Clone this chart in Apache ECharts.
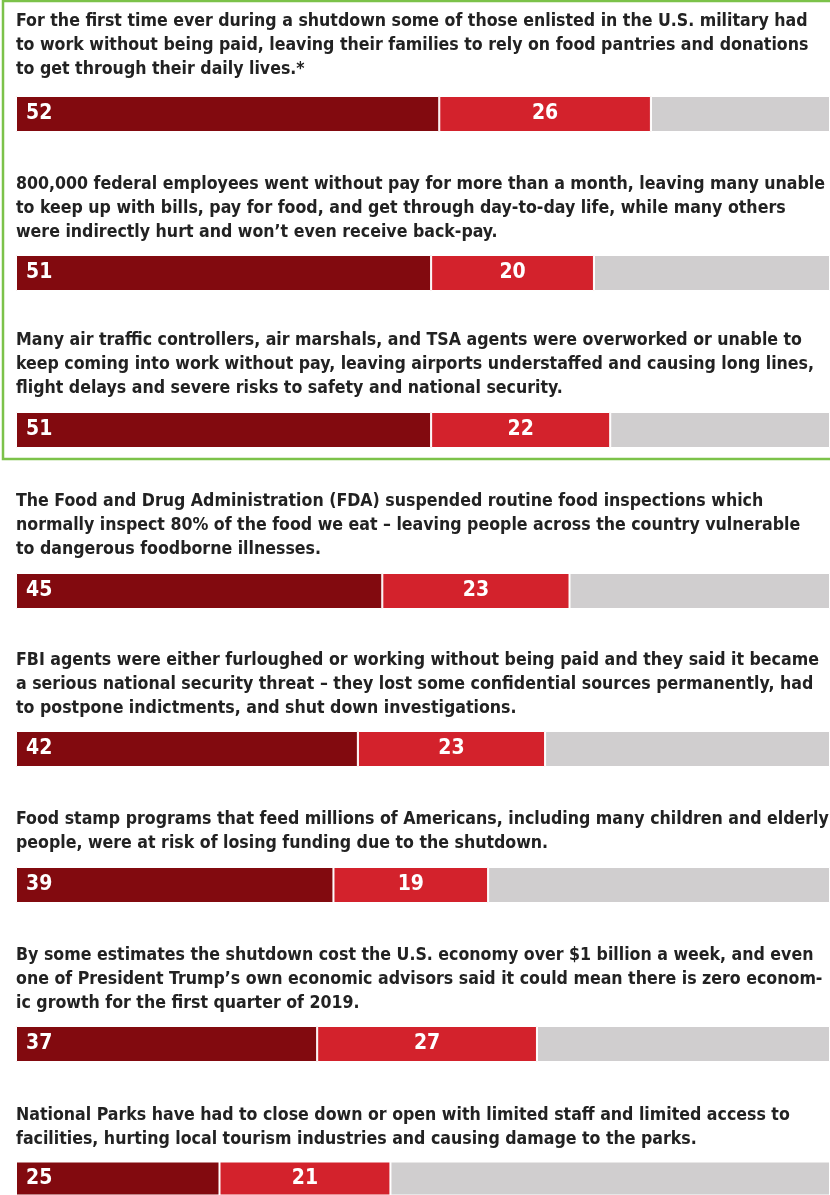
<!DOCTYPE html>
<html>
<head>
<meta charset="utf-8">
<title>shutdown</title>
<script src="https://cdn.jsdelivr.net/npm/echarts@6/dist/echarts.min.js"></script>
<style>
  html, body { margin: 0; padding: 0; background: #fff; }
  #chart { width: 830px; height: 1195px; }
</style>
</head>
<body>
<div id="chart"></div>
<script>
// 每一行的说明文字
var items = [
  "For the first time ever during a shutdown some of those enlisted in the U.S. military had\nto work without being paid, leaving their families to rely on food pantries and donations\nto get through their daily lives.*",
  "800,000 federal employees went without pay for more than a month, leaving many unable\nto keep up with bills, pay for food, and get through day-to-day life, while many others\nwere indirectly hurt and won\u2019t even receive back-pay.",
  "Many air traffic controllers, air marshals, and TSA agents were overworked or unable to\nkeep coming into work without pay, leaving airports understaffed and causing long lines,\nflight delays and severe risks to safety and national security.",
  "The Food and Drug Administration (FDA) suspended routine food inspections which\nnormally inspect 80% of the food we eat \u2013 leaving people across the country vulnerable\nto dangerous foodborne illnesses.",
  "FBI agents were either furloughed or working without being paid and they said it became\na serious national security threat \u2013 they lost some confidential sources permanently, had\nto postpone indictments, and shut down investigations.",
  "Food stamp programs that feed millions of Americans, including many children and elderly\npeople, were at risk of losing funding due to the shutdown.",
  "By some estimates the shutdown cost the U.S. economy over $1 billion a week, and even\none of President Trump\u2019s own economic advisors said it could mean there is zero econom-\nic growth for the first quarter of 2019.",
  "National Parks have had to close down or open with limited staff and limited access to\nfacilities, hurting local tourism industries and causing damage to the parks."
];
var darkValues = [52, 51, 51, 45, 42, 39, 37, 25];
var redValues = [26, 20, 22, 23, 23, 19, 27, 21];

// 布局（像素）
var textTops = [9, 172, 328, 489, 648, 807, 943, 1103];
var barTops = [96, 255, 412, 573, 731, 867, 1026, 1162];
var barH = 36;

var font = "'DejaVu Sans Condensed', sans-serif";

var titles = [], grids = [], xAxes = [], yAxes = [], series = [];
for (var i = 0; i < items.length; i++) {
  titles.push({
    text: items[i],
    left: 16,
    top: textTops[i],
    padding: 0,
    textStyle: { color: '#222', fontSize: 17.6, fontWeight: 'bold', fontFamily: font, lineHeight: 24 }
  });
  grids.push({ left: 16, width: 815, top: barTops[i], height: barH });
  xAxes.push({ type: 'value', gridIndex: i, min: 0, max: 100, show: false });
  yAxes.push({ type: 'category', gridIndex: i, data: ['r' + i], show: false });
  var seg = { borderColor: '#fff', borderWidth: 1 };
  series.push({
    type: 'bar', xAxisIndex: i, yAxisIndex: i, stack: 's' + i, barWidth: barH,
    data: [darkValues[i]],
    itemStyle: Object.assign({ color: '#820a0f' }, seg),
    label: { show: true, position: 'insideLeft', distance: 10, color: '#fff', fontSize: 21, fontWeight: 'bold', fontFamily: font }
  });
  series.push({
    type: 'bar', xAxisIndex: i, yAxisIndex: i, stack: 's' + i, barWidth: barH,
    data: [redValues[i]],
    itemStyle: Object.assign({ color: '#d3222c' }, seg),
    label: { show: true, position: 'inside', color: '#fff', fontSize: 21, fontWeight: 'bold', fontFamily: font }
  });
  series.push({
    type: 'bar', xAxisIndex: i, yAxisIndex: i, stack: 's' + i, barWidth: barH,
    data: [100 - darkValues[i] - redValues[i]],
    itemStyle: Object.assign({ color: '#d0cecf' }, seg),
    label: { show: false }
  });
}

var myChart = echarts.init(document.getElementById('chart'));
myChart.setOption({
  animation: false,
  title: titles,
  grid: grids,
  xAxis: xAxes,
  yAxis: yAxes,
  series: series,
  graphic: [{
    // 前三项的绿色边框
    type: 'rect',
    shape: { x: 3, y: 1, width: 840, height: 458 },
    style: { fill: 'none', stroke: '#7cc24a', lineWidth: 2.5 },
    silent: true
  }]
});
</script>
</body>
</html>
